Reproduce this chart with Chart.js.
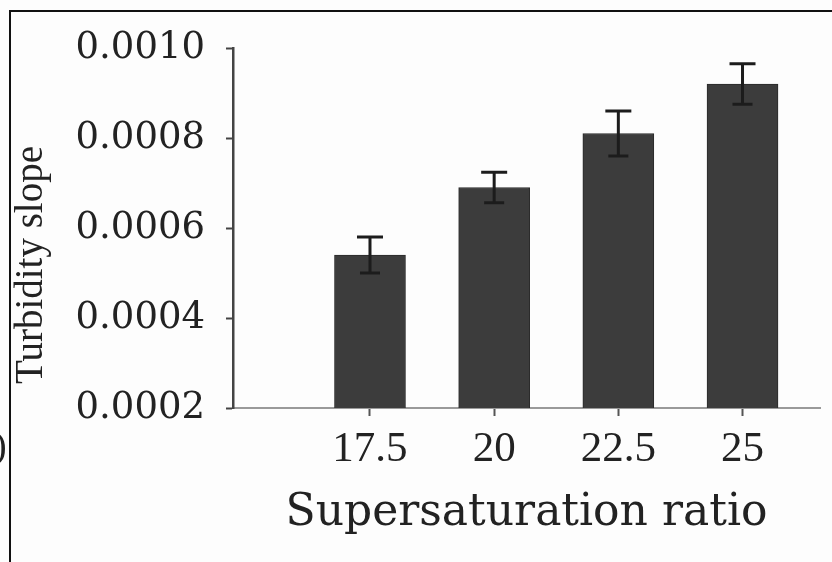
<!DOCTYPE html>
<html>
<head>
<meta charset="utf-8">
<script src="https://cdn.jsdelivr.net/npm/chart.js@4.4.7/dist/chart.umd.min.js"></script>
<style>
  html, body { margin: 0; padding: 0; background: #fdfdfd; }
  #wrap { position: relative; width: 832px; height: 562px; }
  #frame { position: absolute; left: 9px; top: 10px; right: 0; bottom: 0;
           border-top: 2px solid #111; border-left: 2px solid #111; pointer-events: none; }
</style>
</head>
<body>
<div id="wrap">
  <canvas id="chart" width="832" height="562"></canvas>
  <div id="frame"></div>
</div>
<script>
const ratios = [17.5, 20, 22.5, 25];
const slopes = [0.00054, 0.00069, 0.00081, 0.00092];
const errors = [0.00004, 0.000034, 0.00005, 0.000045];
const yTicks = [0.0002, 0.0004, 0.0006, 0.0008, 0.0010];

const canvas = document.getElementById('chart');

// error bars drawn on top of the bars
const errorBars = {
  id: 'errorBars',
  afterDatasetsDraw(chart) {
    const ctx = chart.ctx;
    const meta = chart.getDatasetMeta(0);
    const y = chart.scales.y;
    ctx.save();
    ctx.strokeStyle = '#1c1c1c';
    ctx.lineWidth = 3;
    meta.data.forEach((bar, i) => {
      const top = y.getPixelForValue(slopes[i] + errors[i]);
      const bot = y.getPixelForValue(slopes[i] - errors[i]);
      ctx.beginPath();
      ctx.moveTo(bar.x, top);
      ctx.lineTo(bar.x, bot);
      ctx.moveTo(bar.x - 13, top);
      ctx.lineTo(bar.x + 13, top);
      ctx.moveTo(bar.x - 10, bot);
      ctx.lineTo(bar.x + 10, bot);
      ctx.stroke();
    });
    ctx.restore();
  }
};

// rotated y title and the cut-off panel letter at the left edge
const sideText = {
  id: 'sideText',
  afterDraw(chart) {
    const ctx = chart.ctx;
    ctx.save();
    ctx.fillStyle = '#222';
    ctx.font = '39px "Liberation Serif"';
    ctx.textAlign = 'center';
    ctx.textBaseline = 'middle';
    ctx.translate(32, 265);
    ctx.rotate(-Math.PI / 2);
    ctx.fillText('Turbidity slope', 0, 0);
    ctx.restore();
    ctx.save();
    ctx.fillStyle = '#222';
    ctx.font = '38px "Liberation Serif"';
    ctx.textBaseline = 'middle';
    ctx.fillText(')', -6, 448);
    ctx.restore();
  }
};

new Chart(canvas, {
  type: 'bar',
  data: {
    datasets: [{
      data: ratios.map((r, i) => ({ x: r, y: slopes[i] })),
      backgroundColor: '#3c3c3c',
      borderColor: '#2a2a2a',
      borderWidth: 1,
      barThickness: 71
    }]
  },
  options: {
    responsive: false,
    animation: false,
    layout: { padding: { left: 0, right: 12, top: 48, bottom: 0 } },
    plugins: { legend: { display: false }, tooltip: { enabled: false } },
    scales: {
      x: {
        type: 'linear',
        offset: false,
        min: 14.742,
        max: 26.56,
        afterBuildTicks: (scale) => { scale.ticks = ratios.map(v => ({ value: v })); },
        afterFit: (scale) => { scale.height = 154; },
        grid: { drawOnChartArea: false, offset: false, tickLength: 8, tickColor: '#555', tickWidth: 2 },
        border: { display: true, color: '#9a9a9a', width: 2 },
        ticks: {
          autoSkip: false,
          maxRotation: 0,
          padding: 8,
          color: '#222',
          font: { family: 'Liberation Serif', size: 43 },
          callback: (v) => String(v)
        },
        title: {
          display: true,
          text: 'Supersaturation ratio',
          color: '#222',
          font: { family: 'DejaVu Serif', size: 44 },
          padding: { top: 0, bottom: 22 }
        }
      },
      y: {
        min: 0.0002,
        max: 0.0010,
        afterBuildTicks: (scale) => { scale.ticks = yTicks.map(v => ({ value: v })); },
        afterFit: (scale) => { scale.width = 233; },
        grid: { drawOnChartArea: false, tickLength: 7, tickColor: '#444', tickWidth: 2 },
        border: { display: true, color: '#444', width: 2.5 },
        ticks: {
          padding: 21,
          color: '#222',
          font: { family: 'DejaVu Serif', size: 37 },
          callback: (v) => v.toFixed(4)
        }
      }
    }
  },
  plugins: [errorBars, sideText]
});
</script>
</body>
</html>
